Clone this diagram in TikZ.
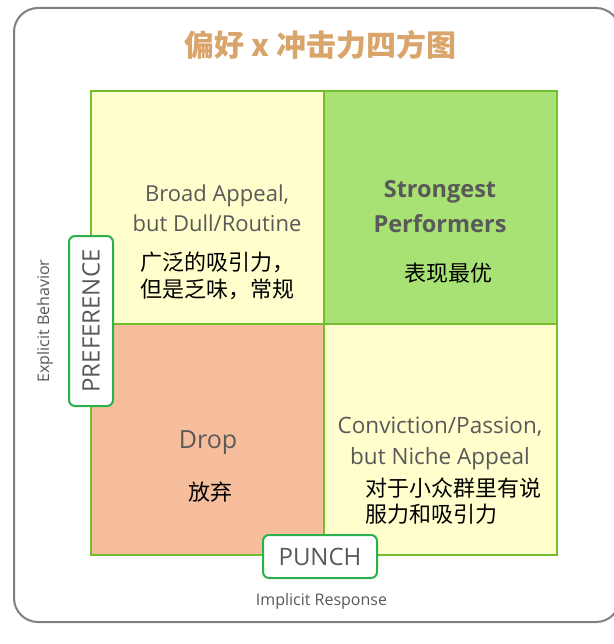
\documentclass[tikz,border=0pt]{standalone}
\usepackage{fontspec}
\setmainfont{Open Sans}
\newfontfamily\cjk{Noto Sans CJK SC}
\definecolor{outerc}{HTML}{7F7F7F}
\definecolor{gridc}{HTML}{72BE2F}
\definecolor{yel}{HTML}{FFFECC}
\definecolor{grn}{HTML}{A8E174}
\definecolor{sal}{HTML}{F7BE9E}
\definecolor{tagc}{HTML}{2AB14B}
\definecolor{txtg}{HTML}{595959}
\definecolor{titc}{HTML}{D9A56B}
\tikzset{
  quad/.style={draw=gridc, line width=2pt},
  entext/.style={text=txtg, align=center, font=\fontsize{22}{30}\selectfont, inner sep=0pt},
  cntext/.style={text=black, align=left, font=\cjk\fontsize{22}{26.5}\selectfont, inner sep=0pt},
  tagbox/.style={draw=tagc, fill=white, line width=2pt, rounded corners=6pt, text=txtg, font=\fontsize{24}{24}\selectfont},
  axis/.style={text=txtg, font=\fontsize{16}{16}\selectfont, inner sep=0pt}
}
\begin{document}
\begin{tikzpicture}[x=1pt,y=-1pt]
\useasboundingbox (0,0) rectangle (613,644);
\fill[white] (0,0) rectangle (613,644);
\draw[outerc, line width=2pt, rounded corners=24pt] (14,8) rectangle (620,622);
\node[text=titc, font=\cjk\bfseries\fontsize{30}{30}\selectfont, inner sep=0pt] (title) at (320.5,44.5) {偏好 x 冲击力四方图};
% quadrants
\fill[yel] (91,91) rectangle (324,324);
\fill[grn] (324,91) rectangle (557,324);
\fill[sal] (91,324) rectangle (324,555);
\fill[yel] (324,324) rectangle (557,555);
\draw[quad] (91,91) rectangle (557,555);
\draw[quad] (324,91) -- (324,555);
\draw[quad] (91,324) -- (557,324);
% texts
\node[entext] (q1en) at (217,208) {Broad Appeal,\\but Dull/Routine};
\node[cntext, anchor=west] (q1cn) at (140,276) {广泛的吸引力，\\但是乏味，常规};
\node[entext, font=\bfseries\fontsize{23.5}{35}\selectfont] (q2en) at (440,206.5) {Strongest\\Performers};
\node[cntext] (q2cn) at (448.5,273) {表现最优};
\node[entext, font=\fontsize{25}{30}\selectfont] (q3en) at (208,443) {Drop};
\node[cntext] (q3cn) at (210,492) {放弃};
\node[entext, font=\fontsize{22.5}{31}\selectfont] (q4en) at (440,443) {Conviction/Passion,\\but Niche Appeal};
\node[cntext, anchor=west] (q4cn) at (365,501) {对于小众群里有说\\服力和吸引力};
% tags
\node[tagbox, rotate=90, minimum width=170pt, minimum height=44pt, inner sep=0pt] (pref) at (91,321) {PREFERENCE};
\node[tagbox, minimum width=114pt, minimum height=43pt, inner sep=0pt] (punch) at (320,556.5) {PUNCH};
\node[axis, rotate=90] (yax) at (45,321) {Explicit Behavior};
\node[axis] (xax) at (321.5,601) {Implicit Response};
\end{tikzpicture}
\end{document}
